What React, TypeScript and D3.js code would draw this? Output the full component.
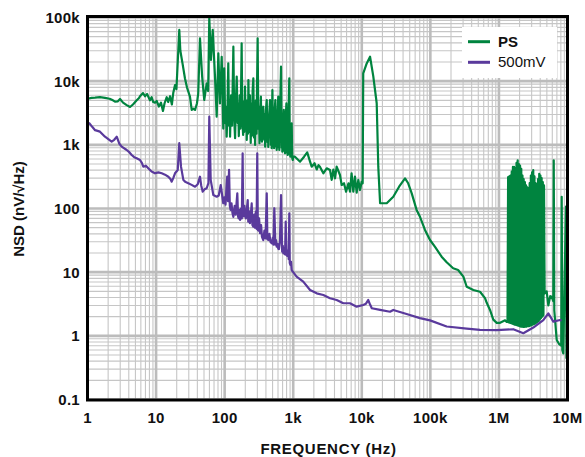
import React from "react";
import * as d3 from "d3";

// ---------- axis ticks & labels ----------
const xTickValues = [1, 10, 100, 1e3, 1e4, 1e5, 1e6, 1e7];
const xTickLabels = ["1", "10", "100", "1k", "10k", "100k", "1M", "10M"];
const yTickValues = [0.1, 1, 10, 100, 1e3, 1e4, 1e5];
const yTickLabels = ["0.1", "1", "10", "100", "1k", "10k", "100k"];
const seriesNames = ["PS", "500mV"];
const xTitle = "FREQUENCY (Hz)";
const yTitle = "NSD (nV/\u221AHz)";

// ---------- PS series [frequency Hz, NSD nV/rtHz] ----------
const psLowBand: [number, number][] = [
  [1, 5300], [1.15, 5450], [1.29, 5500], [1.52, 5600], [1.8, 5450], [2.1, 5300],
  [2.35, 5000], [2.52, 4760], [2.75, 4800], [2.98, 5250], [3.3, 4600], [3.73, 4200],
  [4.17, 3930], [4.6, 4300], [5.22, 5000], [5.6, 5400], [5.83, 5800], [6.45, 6500],
  [6.9, 5800], [7.4, 6300], [8.15, 5000], [8.6, 5600], [9.1, 4700], [9.64, 4600],
  [10.2, 4900], [11, 4000], [11.8, 4600], [12.6, 3400], [13.3, 4500], [14.3, 5600],
  [15, 4700], [16, 5800], [17, 4300], [17.8, 6500], [18.9, 8700], [19.8, 7500],
  [20.7, 20000], [21.8, 63700], [22.6, 30000], [24.5, 18000], [26.4, 11000],
  [28.2, 8000], [31.2, 5700], [33.1, 3530], [35, 3700], [37, 3530], [39.5, 4500],
  [41.2, 6450], [43.7, 47100], [47, 11800], [50.4, 5060], [54.7, 9200], [57.5, 7000],
  [59.7, 98000], [63.2, 21500], [67, 63700], [72.3, 11800], [76.6, 2770],
  [80.9, 27400], [85.4, 4470], [90.6, 24200],
];

const psHumBand: [number, number][] = [
  [95.5, 1800], [98.5, 15900], [102, 2200], [104, 4000], [107, 1340], [110, 3500],
  [113, 19100], [116, 2000], [118, 5000], [120, 1340], [124, 6000], [128, 2000],
  [131, 8000], [134, 34800], [138, 2500], [142, 1270], [146, 5000], [150, 11800],
  [155, 2200], [158, 4500], [161, 1370], [166, 6000], [170, 1800], [174, 9000],
  [177, 39300], [181, 2500], [186, 1430], [190, 4800], [194, 1600], [198, 8200],
  [204, 2000], [207, 5000], [210, 1190], [216, 4000], [219, 1500], [222, 10400],
  [228, 1600], [234, 6000], [240, 1070], [246, 4500], [251, 1400], [256, 7000],
  [262, 11100], [268, 1300], [274, 3000], [278, 994], [285, 5000], [292, 1500],
  [297, 9000], [303, 47100], [310, 1800], [316, 4000], [322, 1060], [330, 3000],
  [338, 5700], [344, 1300], [350, 1120], [358, 3500], [366, 3970], [378, 1200],
  [384, 3000], [390, 935], [400, 3500], [411, 5060], [422, 1100], [428, 2800],
  [433, 925], [446, 3000], [459, 5060], [472, 1000], [480, 2600], [486, 885],
  [492, 3000], [497, 7270], [511, 950], [518, 3000], [526, 885], [537, 3500],
  [549, 5060], [560, 950], [567, 2500], [574, 830], [590, 3000], [605, 5700],
  [616, 900], [621, 2400], [627, 830], [645, 3500], [664, 16900], [680, 900],
  [687, 2500], [694, 780], [712, 2200], [729, 3530], [744, 800], [751, 2000],
  [759, 736], [777, 2500], [795, 4470], [812, 750], [821, 2000], [830, 692],
  [853, 3000], [877, 11100], [892, 700], [900, 1800], [907, 651], [928, 1500],
  [950, 2180], [968, 620], [985, 578], [1000, 651],
];

const psMidBand: [number, number][] = [
  [1060, 651], [1260, 544], [1440, 651], [1600, 760], [1760, 544], [1860, 454],
  [2050, 513], [2200, 410], [2340, 480], [2450, 454], [2750, 357], [3080, 428],
  [3440, 403], [3640, 281], [3850, 410], [4070, 298], [4300, 454], [4810, 336],
  [5090, 234], [5500, 249], [5900, 184], [6400, 249], [6730, 184], [7100, 357],
  [7520, 184], [7950, 316], [8430, 178], [8900, 281], [9420, 195], [9970, 264],
  [10300, 249], [10500, 13300], [11800, 19000], [13200, 24200], [14700, 12000],
  [16500, 4500], [17400, 454], [18500, 121], [23100, 121], [28800, 153],
  [35000, 220], [42700, 298], [47500, 249], [53500, 173], [63000, 95], [70600, 74],
  [83500, 46], [98800, 32], [117000, 25], [146000, 17.5], [173000, 14.3],
  [215000, 11.5], [254000, 10.8], [303000, 8.5], [339000, 5.9], [424000, 5.25],
  [530000, 4.93], [627000, 3.9], [664000, 3.3], [741000, 2.55], [828000, 1.8],
  [929000, 1.6], [1040000, 1.6], [1230000, 1.75], [1300000, 1.65],
];

const psDenseBand: [number, number][] = [
  [1334000, 1.65], [1361000, 310], [1389000, 1.62], [1417000, 320], [1446000, 1.6],
  [1475000, 330], [1505000, 1.58], [1536000, 380], [1567000, 1.55], [1599000, 450],
  [1631000, 1.52], [1664000, 450], [1698000, 1.5], [1733000, 430], [1768000, 1.48],
  [1804000, 520], [1840000, 1.46], [1878000, 570], [1916000, 1.44], [1955000, 500],
  [1994000, 1.42], [2035000, 470], [2076000, 1.4], [2118000, 420], [2161000, 1.4],
  [2205000, 330], [2250000, 1.38], [2296000, 290], [2342000, 1.38], [2390000, 260],
  [2438000, 1.4], [2488000, 230], [2538000, 1.4], [2590000, 215], [2642000, 1.42],
  [2696000, 210], [2751000, 1.42], [2807000, 250], [2864000, 1.44], [2922000, 330],
  [2981000, 1.46], [3042000, 370], [3103000, 1.5], [3166000, 400], [3231000, 1.52],
  [3296000, 320], [3363000, 1.55], [3431000, 250], [3501000, 1.6], [3572000, 240],
  [3645000, 1.65], [3719000, 290], [3794000, 1.7], [3871000, 350], [3950000, 1.8],
  [4030000, 330], [4112000, 1.9], [4195000, 300], [4280000, 2.0], [4367000, 260],
  [4456000, 2.1], [4546000, 230],
];

const psTail: [number, number][] = [
  [4639000, 4.6], [4970000, 5.0], [5250000, 3.0], [5600000, 4.2], [5890000, 4.1],
  [6200000, 3.5], [6300000, 570], [6420000, 2.5], [6960000, 0.86], [7500000, 0.75],
  [8100000, 0.7], [8230000, 153], [8400000, 0.6], [8680000, 0.53], [9500000, 107],
  [9650000, 0.45], [10000000, 0.42],
];

// ---------- 500mV series [frequency Hz, NSD nV/rtHz] ----------
const mvLowBand: [number, number][] = [
  [1, 2250], [1.07, 2160], [1.18, 1900], [1.29, 1700], [1.52, 1610], [1.8, 1340],
  [2.25, 1120], [2.45, 1200], [2.67, 1340], [2.9, 1050], [3.15, 935], [3.73, 830],
  [4.1, 760], [4.41, 692], [4.8, 640], [5.22, 615], [5.83, 578], [6.2, 520],
  [6.51, 454], [7.1, 470], [7.7, 428], [8.6, 380], [9.64, 357], [10.8, 370],
  [12.1, 357], [13.5, 340], [15.1, 316], [16.2, 290], [16.9, 264], [17.8, 300],
  [18.9, 357], [20.7, 403], [21.8, 1060], [23.1, 454], [25, 281], [27, 260],
  [29.5, 249], [33, 235], [37, 220], [40.5, 240], [43.7, 316], [45.5, 230],
  [47.9, 184], [51, 200], [54.7, 208], [58, 250], [59.7, 2770], [62.6, 281],
  [68.4, 163], [76.6, 153], [82, 160], [87.7, 234],
];

const mvHumBand: [number, number][] = [
  [95.5, 121], [99, 150], [103, 115], [106, 200], [109, 316], [112, 130], [116, 403],
  [119, 110], [122, 95], [126, 120], [130, 85], [134, 74], [140, 110], [145, 80],
  [149, 120], [153, 173], [157, 75], [160, 70], [164, 95], [168, 66], [173, 100],
  [178, 70], [183, 736], [186, 80], [190, 75], [194, 110], [198, 84], [204, 70],
  [210, 95], [217, 136], [221, 62], [226, 62], [230, 90], [234, 59], [240, 75],
  [248, 120], [254, 55], [262, 52], [270, 80], [276, 50], [285, 90], [292, 48],
  [299, 736], [305, 46], [310, 45], [318, 70], [328, 41], [340, 55], [350, 36],
  [366, 32], [380, 45], [395, 34], [411, 173], [420, 33], [433, 32], [450, 40],
  [465, 30], [486, 28.4], [505, 35], [515, 27], [530, 101], [550, 27], [562, 32],
  [574, 25.1], [590, 28], [605, 23.5], [620, 23], [640, 30], [664, 163], [690, 21],
  [705, 26], [717, 19.8], [740, 24], [760, 19], [777, 62], [800, 18.5], [820, 18],
  [845, 22], [860, 16], [877, 84], [890, 14], [910, 13], [930, 14.5], [950, 10.8],
];

const mvHighBand: [number, number][] = [
  [1120, 8.5], [1400, 7.1], [1760, 5.25], [2200, 4.65], [2750, 4.38], [3440, 3.89],
  [4300, 3.66], [5380, 3.25], [6730, 3.25], [8430, 2.87], [10500, 3.05],
  [11500, 3.2], [12400, 3.66], [13200, 3.1], [14000, 2.71], [18500, 2.55],
  [25800, 2.39], [28800, 2.55], [45000, 2.2], [70600, 1.9], [98800, 1.75],
  [173000, 1.4], [339000, 1.3], [530000, 1.24], [929000, 1.23], [1620000, 1.27],
  [2270000, 1.1], [3170000, 1.35], [4440000, 1.77], [5250000, 2.26],
  [6210000, 1.67], [7780000, 1.77], [8200000, 1.75],
];

const psPoints = [...psLowBand, ...psHumBand, ...psMidBand, ...psDenseBand, ...psTail];
const mvPoints = [...mvLowBand, ...mvHumBand, ...mvHighBand];

const GREEN = "#00843f";
const PURPLE = "#5a3a9c";

const W = 585;
const H = 457;
const PL = 87.5, PR = 567.5, PT = 17.5, PB = 399.5;

export default function App() {
  const x = d3.scaleLog().domain([1, 1e7]).range([PL, PR]);
  const y = d3.scaleLog().domain([0.1, 1e5]).range([PB, PT]);

  const xMinor: number[] = [];
  for (let d = 0; d < 7; d++) for (let k = 2; k <= 9; k++) xMinor.push(k * Math.pow(10, d));
  const yMinor: number[] = [];
  for (let d = -1; d < 5; d++) for (let k = 2; k <= 9; k++) yMinor.push(k * Math.pow(10, d));

  const line = d3
    .line<[number, number]>()
    .x((d) => x(d[0]))
    .y((d) => y(d[1]));

  const font = "'Liberation Sans', Arial, Helvetica, sans-serif";

  return (
    <svg
      width={W}
      height={H}
      viewBox={`0 0 ${W} ${H}`}
      style={{ position: "absolute", left: 0, top: 0, background: "#fff" }}
    >
      <defs>
        <clipPath id="plotClip">
          <rect x={PL} y={PT} width={PR - PL} height={PB - PT} />
        </clipPath>
      </defs>
      <rect x={0} y={0} width={W} height={H} fill="#fff" />
      {/* minor grid */}
      <g stroke="#c6c6c6" strokeWidth={1.1}>
        {xMinor.map((v, i) => (
          <line key={"xm" + i} x1={x(v)} x2={x(v)} y1={PT} y2={PB} />
        ))}
        {yMinor.map((v, i) => (
          <line key={"ym" + i} x1={PL} x2={PR} y1={y(v)} y2={y(v)} />
        ))}
      </g>
      {/* major grid */}
      <g stroke="#bcbcbc" strokeWidth={2.6}>
        {xTickValues.map((v, i) => (
          <line key={"xM" + i} x1={x(v)} x2={x(v)} y1={PT} y2={PB} />
        ))}
        {yTickValues.map((v, i) => (
          <line key={"yM" + i} x1={PL} x2={PR} y1={y(v)} y2={y(v)} />
        ))}
      </g>
      {/* series */}
      <g clipPath="url(#plotClip)" fill="none" strokeLinejoin="round">
        <path d={line(psPoints) || ""} stroke={GREEN} strokeWidth={2.2} />
        <path d={line(mvPoints) || ""} stroke={PURPLE} strokeWidth={2.2} />
      </g>
      {/* legend */}
      <rect x={462} y={27} width={95} height={51} fill="#fff" />
      <line x1={468} x2={490} y1={41.7} y2={41.7} stroke={GREEN} strokeWidth={3} />
      <line x1={468} x2={490} y1={62.3} y2={62.3} stroke={PURPLE} strokeWidth={3} />
      <text x={498} y={46.7} fontFamily={font} fontSize={15} fontWeight="bold" fill="#111">
        {seriesNames[0]}
      </text>
      <text x={498} y={67.3} fontFamily={font} fontSize={15} fontWeight="normal" fill="#111">
        {seriesNames[1]}
      </text>
      {/* frame */}
      <rect x={PL} y={PT - 1} width={PR - PL} height={PB - PT + 1.5} fill="none" stroke="#000" strokeWidth={3} />
      {/* tick labels */}
      <g fontFamily={font} fontSize={15} fontWeight="bold" fill="#111" letterSpacing={0.3}>
        {yTickValues.map((v, i) => (
          <text key={"yl" + i} x={80} y={y(v)} dy="0.36em" textAnchor="end">
            {yTickLabels[i]}
          </text>
        ))}
        {xTickValues.map((v, i) => (
          <text key={"xl" + i} x={x(v)} y={422.5} textAnchor="middle">
            {xTickLabels[i]}
          </text>
        ))}
      </g>
      <text
        x={328.5}
        y={453.5}
        textAnchor="middle"
        fontFamily={font}
        fontSize={15}
        fontWeight="bold"
        letterSpacing={0.7}
        fill="#111"
      >
        {xTitle}
      </text>
      <text
        transform="translate(24,209) rotate(-90)"
        textAnchor="middle"
        fontFamily={font}
        fontSize={15}
        fontWeight="bold"
        fill="#111"
      >
        {yTitle}
      </text>
    </svg>
  );
}
